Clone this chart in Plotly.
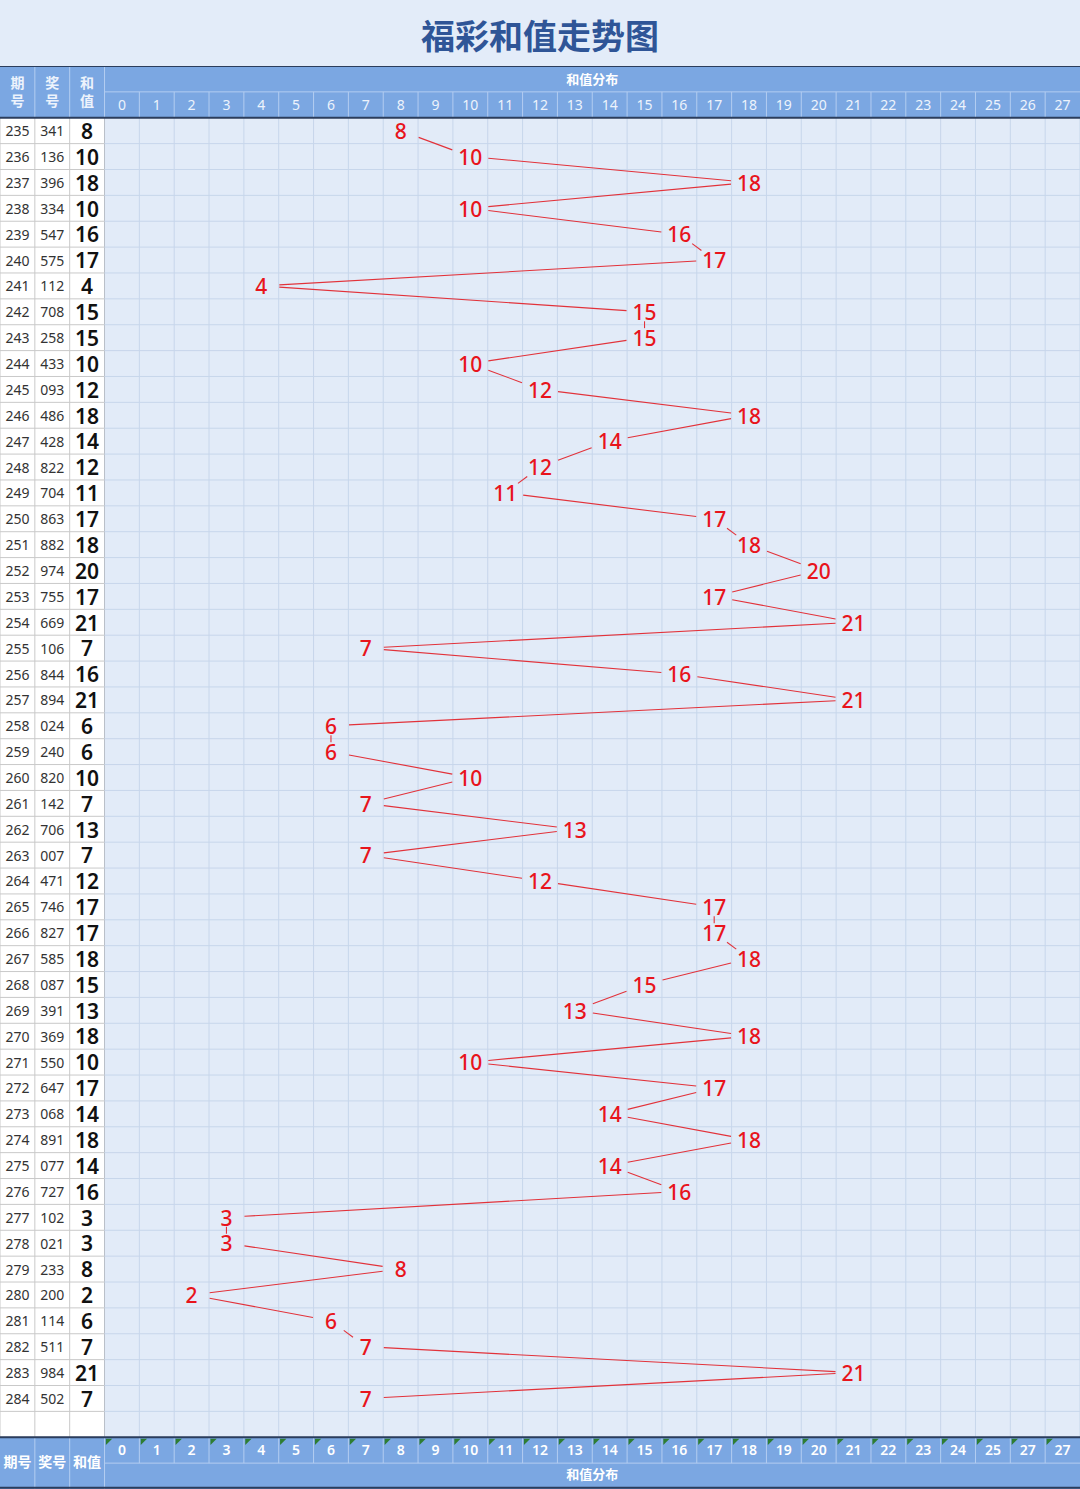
import plotly.graph_objects as go

# ---------------- data ----------------
periods = list(range(235, 285))
draws = ["341", "136", "396", "334", "547", "575", "112", "708", "258", "433",
         "093", "486", "428", "822", "704", "863", "882", "974", "755", "669",
         "106", "844", "894", "024", "240", "820", "142", "706", "007", "471",
         "746", "827", "585", "087", "391", "369", "550", "647", "068", "891",
         "077", "727", "102", "021", "233", "200", "114", "511", "984", "502"]
sums = [8, 10, 18, 10, 16, 17, 4, 15, 15, 10,
        12, 18, 14, 12, 11, 17, 18, 20, 17, 21,
        7, 16, 21, 6, 6, 10, 7, 13, 7, 12,
        17, 17, 18, 15, 13, 18, 10, 17, 14, 18,
        14, 16, 3, 3, 8, 2, 6, 7, 21, 7]
top_ticks = [str(i) for i in range(28)]
bottom_ticks = [str(i) for i in range(26)] + ["27", "27"]
left_head_top = ["期<br>号", "奖<br>号", "和<br>值"]
left_head_bottom = ["期号", "奖号", "和值"]
band_label = "和值分布"
title_text = "福彩和值走势图"

# ---------------- geometry ----------------
W, H = 1080, 1489
TOP = 66
NROWS = len(periods)
X0, X1 = -3.5, 27.5
Y_TOP, Y_BOT = -2.5, NROWS + 2.5
SX = W / (X1 - X0)
SY = (H - TOP) / (Y_BOT - Y_TOP)
DY_BIG = 3.0 / SY     # optical correction of text baseline (pixels -> rows)
DY_SMALL = 2.0 / SY

rows = list(range(NROWS))

GRID_BG = "#e2ebf8"
GRID_LINE = "#c7d6eb"
LEFT_LINE = "#c9c9c9"
HEAD_BG = "#7ba7e2"
HEAD_LINE = "#b3cdf1"
DARK = "#2b3d5c"
RED = "#e8141c"
LINE_RED = "#e2323a"

shapes = []
# white left columns (data + empty row)
shapes.append(dict(type="rect", xref="x", yref="y", x0=X0, x1=-0.5, y0=-0.5, y1=NROWS + 0.5,
                   fillcolor="white", line=dict(width=0), layer="below"))
# grid lines
for k in range(-3, 29):
    xb = k - 0.5
    col = LEFT_LINE if xb < -0.5 else ("#b9bfc9" if xb == -0.5 else GRID_LINE)
    shapes.append(dict(type="line", xref="x", yref="y", x0=xb, x1=xb, y0=-0.5, y1=NROWS + 0.5,
                       line=dict(color=col, width=1), layer="below"))
for r in range(0, NROWS + 1):
    yb = r + 0.5
    shapes.append(dict(type="line", xref="x", yref="y", x0=X0, x1=-0.5, y0=yb, y1=yb,
                       line=dict(color=LEFT_LINE, width=1), layer="below"))
    shapes.append(dict(type="line", xref="x", yref="y", x0=-0.5, x1=X1, y0=yb, y1=yb,
                       line=dict(color=GRID_LINE, width=1), layer="below"))

# header and footer bands
for (ya, yb) in [(-2.5, -0.5), (NROWS + 0.5, NROWS + 2.5)]:
    shapes.append(dict(type="rect", xref="x", yref="y", x0=X0, x1=X1, y0=ya, y1=yb,
                       fillcolor=HEAD_BG, line=dict(width=0), layer="below"))
    for xb in [-2.5, -1.5, -0.5]:
        shapes.append(dict(type="line", xref="x", yref="y", x0=xb, x1=xb, y0=ya, y1=yb,
                           line=dict(color=HEAD_LINE, width=1), layer="below"))
    ymid = (ya + yb) / 2
    shapes.append(dict(type="line", xref="x", yref="y", x0=-0.5, x1=X1, y0=ymid, y1=ymid,
                       line=dict(color=HEAD_LINE, width=1), layer="below"))
    cy0, cy1 = (ymid, yb) if ya < 0 else (ya, ymid)
    for k in range(1, 28):
        shapes.append(dict(type="line", xref="x", yref="y", x0=k - 0.5, x1=k - 0.5, y0=cy0, y1=cy1,
                           line=dict(color=HEAD_LINE, width=1), layer="below"))
# dark borders
for yb in [-2.5, -0.5, NROWS + 0.5, NROWS + 2.45]:
    shapes.append(dict(type="line", xref="x", yref="y", x0=X0, x1=X1, y0=yb, y1=yb,
                       line=dict(color=DARK, width=2), layer="below"))

fig = go.Figure()

# connecting segments, shortened to the label boxes (computed in pixel space)
HW, HH = 18.0, 9.5
seg_x, seg_y = [], []
for i in range(NROWS - 1):
    xa, ya_ = sums[i], rows[i]
    xb_, yb_ = sums[i + 1], rows[i + 1]
    dx = (xb_ - xa) * SX
    dy = (yb_ - ya_) * SY
    cands = []
    if dx != 0:
        cands.append(HW / abs(dx))
    if dy != 0:
        cands.append(HH / abs(dy))
    t = min(cands)
    if 2 * t >= 1:
        continue
    seg_x += [xa + t * (xb_ - xa), xb_ - t * (xb_ - xa), None]
    seg_y += [ya_ + t * (yb_ - ya_), yb_ - t * (yb_ - ya_), None]

fig.add_trace(go.Scatter(x=seg_x, y=seg_y, mode="lines",
                         line=dict(color=LINE_RED, width=1.1), hoverinfo="skip"))

# red labels
fig.add_trace(go.Scatter(x=sums, y=[r + DY_BIG for r in rows], mode="text", text=[str(s) for s in sums],
                         textfont=dict(family="Noto Sans", size=21, color=RED, weight=500),
                         textposition="middle center", hoverinfo="skip"))

# left columns
fig.add_trace(go.Scatter(x=[-3] * NROWS, y=[r + DY_SMALL for r in rows], mode="text",
                         text=[str(p) for p in periods],
                         textfont=dict(family="Noto Sans", size=14, color="#333333"),
                         hoverinfo="skip"))
fig.add_trace(go.Scatter(x=[-2] * NROWS, y=[r + DY_SMALL for r in rows], mode="text", text=draws,
                         textfont=dict(family="Noto Sans", size=14, color="#333333"),
                         hoverinfo="skip"))
fig.add_trace(go.Scatter(x=[-1] * NROWS, y=[r + DY_BIG for r in rows], mode="text",
                         text=[str(s) for s in sums],
                         textfont=dict(family="Noto Sans", size=21, color="#111111", weight=600),
                         hoverinfo="skip"))

# header texts
HEAD_TXT = "#edf3fc"
fig.add_trace(go.Scatter(x=list(range(28)), y=[-1 + DY_SMALL] * 28, mode="text", text=top_ticks,
                         textfont=dict(family="Noto Sans", size=14, color=HEAD_TXT), hoverinfo="skip"))
fig.add_trace(go.Scatter(x=[13.5], y=[-2 + DY_SMALL], mode="text", text=[band_label],
                         textfont=dict(family="Noto Sans CJK SC", size=13, color="white", weight="bold"),
                         hoverinfo="skip"))
fig.add_trace(go.Scatter(x=[-3, -2, -1], y=[-1.5 + DY_SMALL] * 3, mode="text", text=left_head_top,
                         textfont=dict(family="Noto Sans CJK SC", size=14, color=HEAD_TXT, weight="bold"),
                         hoverinfo="skip"))

# footer texts
fig.add_trace(go.Scatter(x=list(range(28)), y=[NROWS + 1 + DY_SMALL / 2] * 28, mode="text", text=bottom_ticks,
                         textfont=dict(family="Noto Sans", size=14, color="white", weight=600),
                         hoverinfo="skip"))
fig.add_trace(go.Scatter(x=[13.5], y=[NROWS + 2], mode="text", text=[band_label],
                         textfont=dict(family="Noto Sans CJK SC", size=13, color="white", weight="bold"),
                         hoverinfo="skip"))
fig.add_trace(go.Scatter(x=[-3, -2, -1], y=[NROWS + 1.5] * 3, mode="text", text=left_head_bottom,
                         textfont=dict(family="Noto Sans CJK SC", size=14, color="white", weight="bold"),
                         hoverinfo="skip"))
# green corner marks in footer cells
fig.add_trace(go.Scatter(x=[k - 0.5 + 0.1 for k in range(28)], y=[NROWS + 0.5 + 0.14] * 28,
                         mode="markers", marker=dict(symbol="triangle-nw", size=7, color="#2e7d32"),
                         hoverinfo="skip"))

fig.add_annotation(x=0.5, y=1 + (TOP - 35) / (H - TOP), xref="paper", yref="paper",
                   text="<b>" + title_text + "</b>", showarrow=False, yanchor="middle",
                   font=dict(family="Noto Sans CJK SC", size=34, color="#2f5597"))

fig.update_layout(
    width=W, height=H, margin=dict(l=0, r=0, t=TOP, b=0, pad=0),
    paper_bgcolor="#e3ecf9", plot_bgcolor=GRID_BG,
    showlegend=False, shapes=shapes,
    xaxis=dict(range=[X0, X1], visible=False, fixedrange=True),
    yaxis=dict(range=[Y_BOT, Y_TOP], visible=False, fixedrange=True),
)

fig.write_html("out.html", config={"displayModeBar": False},
               post_script="document.body.style.margin='0';document.body.style.overflow='hidden';")
